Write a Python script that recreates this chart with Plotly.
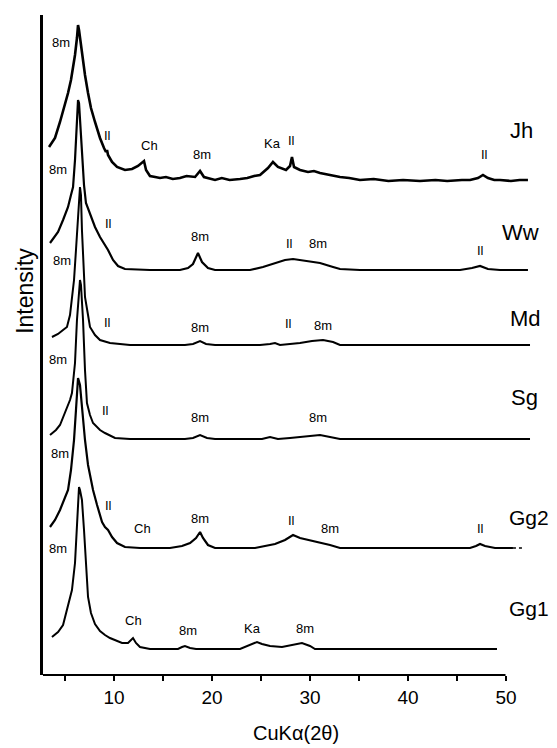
import plotly.graph_objects as go

# ---- data (2-theta in degrees, stacked intensity in arbitrary units) ----
jh_x = [3.37, 3.98, 4.49, 5.00, 5.31, 5.61, 5.82, 6.02, 6.22, 6.33, 6.43, 6.63, 6.84, 7.04, 7.35, 7.65, 8.06, 8.57,
        8.98, 9.18, 9.29, 9.39, 9.80, 10.31, 11.12, 11.84, 12.45, 12.86, 13.06, 13.27, 13.67, 14.2, 14.69, 15.3, 16.0,
        16.73, 17.4, 18.27, 18.78, 19.18, 19.8, 20.31, 21.0, 21.8, 22.86, 23.6, 24.3, 24.90, 25.71, 26.22, 26.73,
        27.55, 27.96, 28.16, 28.37, 28.98, 29.8, 30.4, 31.02, 32.0, 33.06, 34.0, 35.10, 36.5, 38.0, 39.5, 41.22,
        42.8, 44.0, 45.5, 46.33, 47.14, 47.65, 48.16, 48.8, 49.39, 50.5, 51.4, 52.24]
jh_y = [528, 537, 553, 570, 582, 595, 607, 620, 637, 650, 645, 630, 615, 600, 582, 567, 553, 537,
        527, 523, 525, 520, 513, 508, 505, 506, 509, 512, 514, 505, 499, 498, 497, 498, 496,
        497, 499, 498, 504, 498, 496, 495, 497, 495, 496, 497, 499, 500, 507, 513, 508,
        505, 509, 518, 508, 505, 503, 504, 502, 500, 498, 497, 495, 496, 494, 495, 494,
        495, 494, 495, 495, 497, 500, 497, 495, 495, 494, 495, 495]

ww_x = [3.47, 3.67, 4.29, 4.80, 5.31, 5.61, 5.82, 6.02, 6.12, 6.22, 6.33, 6.43, 6.53, 6.73, 6.94, 7.14, 7.55, 8.06,
        8.57, 9.08, 9.39, 9.90, 10.41, 11.12, 13.67, 16.73, 17.55, 18.06, 18.57, 18.98, 19.59, 20.31, 23.88, 25.20,
        26.43, 27.45, 28.27, 29.49, 31.02, 32.35, 33.06, 35.10, 45.31, 46.53, 47.35, 48.16, 49.39, 52.24]
ww_y = [432, 435, 443, 455, 468, 480, 488, 515, 540, 565, 575, 572, 555, 525, 490, 472, 462, 448,
        438, 430, 425, 415, 409, 406, 405, 405, 407, 411, 422, 413, 407, 405, 405, 408,
        412, 415, 416, 414, 412, 408, 406, 405, 405, 407, 409, 406, 405, 405]

md_x = [3.67, 4.29, 4.80, 5.20, 5.51, 5.71, 5.92, 6.12, 6.33, 6.53, 6.63, 6.73, 6.94, 7.04, 7.35, 7.55, 8.06, 8.57,
        9.59, 11.63, 17.24, 18.06, 18.78, 19.39, 20.31, 24.90, 25.92, 26.43, 26.94, 27.96, 28.98, 30.20, 31.33,
        32.35, 33.06, 52.45]
md_y = [338, 341, 345, 348, 360, 375, 395, 425, 460, 488, 480, 445, 400, 378, 360, 348, 340, 335,
        332, 330, 330, 331, 334, 331, 330, 330, 331, 332, 330, 331, 332, 334, 335,
        333, 330, 330]

sg_x = [3.47, 4.08, 4.49, 5.00, 5.51, 5.71, 6.02, 6.22, 6.43, 6.53, 6.63, 6.84, 7.04, 7.24, 7.55, 7.86, 8.57, 9.08,
        10.10, 11.63, 17.24, 18.06, 18.78, 19.49, 20.31, 25.10, 25.92, 26.73, 27.96, 28.98, 30.00, 31.02, 32.04,
        33.06, 52.45]
sg_y = [240, 245, 250, 262, 275, 282, 312, 355, 385, 395, 390, 355, 305, 272, 260, 252, 245, 242,
        237, 236, 236, 237, 240, 237, 236, 236, 238, 236, 237, 238, 239, 240, 238,
        236, 236]

gg2_x = [3.47, 3.98, 4.49, 4.80, 5.31, 5.61, 5.92, 6.12, 6.33, 6.53, 6.73, 7.04, 7.35, 7.65, 7.86, 8.27, 8.57, 8.78,
         9.08, 9.39, 9.80, 10.31, 11.12, 12.65, 15.71, 16.94, 17.76, 18.37, 18.78, 19.08, 19.59, 20.31, 24.39,
         25.41, 26.43, 27.45, 28.27, 28.98, 30.31, 32.04, 33.06, 46.33, 46.94, 47.35, 47.86, 48.88, 50.71]
gg2_y = [148, 155, 165, 172, 185, 205, 235, 265, 297, 290, 265, 235, 210, 193, 185, 170, 160, 153,
         148, 145, 138, 132, 128, 127, 127, 129, 132, 137, 143, 137, 130, 127, 127,
         129, 131, 135, 140, 137, 134, 130, 127, 127, 129, 131, 129, 127, 127]
gg2_tail_x = [50.71, 51.9]
gg2_tail_y = [127, 127]

gg1_x = [3.67, 4.29, 4.80, 5.31, 5.71, 6.02, 6.22, 6.33, 6.43, 6.53, 6.73, 6.94, 7.14, 7.35, 7.65, 8.06, 8.57, 9.08,
         9.59, 10.82, 11.43, 11.73, 11.94, 12.24, 12.65, 13.67, 16.53, 16.94, 17.24, 17.76, 18.37, 22.86, 23.37,
         24.08, 24.59, 25.10, 25.92, 27.14, 28.16, 29.18, 30.00, 30.51, 49.08]
gg1_y = [38, 43, 50, 70, 85, 112, 152, 175, 188, 185, 175, 145, 105, 78, 62, 51, 44, 40,
         37, 32, 32, 35, 37, 32, 28, 26, 26, 28, 29, 27, 26, 26, 28,
         31, 33, 31, 29, 28, 30, 32, 29, 26, 26]

samples = ["Jh", "Ww", "Md", "Sg", "Gg2", "Gg1"]
tick_vals = [5, 10, 15, 20, 25, 30, 35, 40, 45, 50]
tick_text = ["", "10", "", "20", "", "30", "", "40", "", "50"]

# peak labels: (2theta, intensity, text)
peak_labels = [
    (4.59, 633, "8m"), (4.29, 506, "8m"), (4.69, 415, "8m"), (4.29, 316, "8m"), (4.49, 222, "8m"), (4.29, 127, "8m"),
    (9.29, 540, "Il"), (13.67, 530, "Ch"), (18.98, 521, "8m"), (26.22, 532, "Ka"), (28.16, 535, "Il"), (47.76, 521, "Il"),
    (9.39, 452, "Il"), (18.78, 439, "8m"), (27.86, 432, "Il"), (30.82, 432, "8m"), (47.35, 425, "Il"),
    (9.29, 353, "Il"), (18.78, 348, "8m"), (27.76, 352, "Il"), (31.33, 350, "8m"),
    (9.18, 265, "Il"), (18.78, 258, "8m"), (30.82, 258, "8m"),
    (9.39, 170, "Il"), (12.86, 147, "Ch"), (18.78, 157, "8m"), (28.16, 155, "Il"), (32.04, 147, "8m"), (47.35, 147, "Il"),
    (11.94, 55, "Ch"), (17.55, 45, "8m"), (24.18, 47, "Ka"), (29.49, 47, "8m"),
]
sample_label_pos = [(50.2, 545), (49.4, 443), (50.2, 357), (50.3, 278), (50.1, 158), (50.1, 67)]

FONT = "Liberation Sans, Arial, sans-serif"

fig = go.Figure()
series = [(jh_x, jh_y, 2.6), (ww_x, ww_y, 2.2), (md_x, md_y, 2.0), (sg_x, sg_y, 2.0), (gg2_x, gg2_y, 2.2), (gg1_x, gg1_y, 2.0)]
for (xs, ys, w), name in zip(series, samples):
    fig.add_trace(go.Scatter(x=xs, y=ys, mode="lines", name=name,
                             line=dict(color="black", width=w), showlegend=False))
fig.add_trace(go.Scatter(x=gg2_tail_x, y=gg2_tail_y, mode="lines", showlegend=False,
                         line=dict(color="black", width=1.5, dash="dot")))

for x, y, t in peak_labels:
    fig.add_annotation(x=x, y=y, text=t, showarrow=False, xref="x", yref="y",
                       font=dict(family=FONT, size=13, color="black"))
for (x, y), t in zip(sample_label_pos, samples):
    fig.add_annotation(x=x, y=y, text=t, showarrow=False, xref="x", yref="y", xanchor="left",
                       font=dict(family=FONT, size=21 if t.startswith("Gg") else 22, color="black"))

fig.add_annotation(x=28.57, y=-0.088, xref="x", yref="paper", text="CuKα(2θ)", showarrow=False,
                   xanchor="center", yanchor="middle",
                   font=dict(family=FONT, size=20, color="black"))
fig.add_annotation(x=-0.036, y=0.582, xref="paper", yref="paper", text="Intensity", textangle=-90,
                   xanchor="center", yanchor="middle",
                   showarrow=False, font=dict(family=FONT, size=23, color="black"))

# x axis baseline (axis stops at 50 while traces run past it)
fig.add_shape(type="line", xref="x", yref="paper", x0=2.755, x1=49.95, y0=0, y1=0,
              line=dict(color="black", width=2))

# page body has an 8px default margin, so the figure is sized/offset to compensate
fig.update_layout(
    width=549, height=740, autosize=False,
    margin=dict(l=35, r=12, t=7, b=73),
    paper_bgcolor="white", plot_bgcolor="white",
    font=dict(family=FONT, color="black"),
    xaxis=dict(range=[2.755, 53.98], showline=False, showgrid=False, zeroline=False,
               tickvals=tick_vals, ticktext=tick_text, ticks="outside", ticklen=5, tickwidth=2,
               tickcolor="black", tickfont=dict(family=FONT, size=19, color="black")),
    yaxis=dict(range=[0, 660], showline=True, linewidth=3, linecolor="black", showgrid=False,
               zeroline=False, showticklabels=False, ticks=""),
)

fig.write_html("out.html")
